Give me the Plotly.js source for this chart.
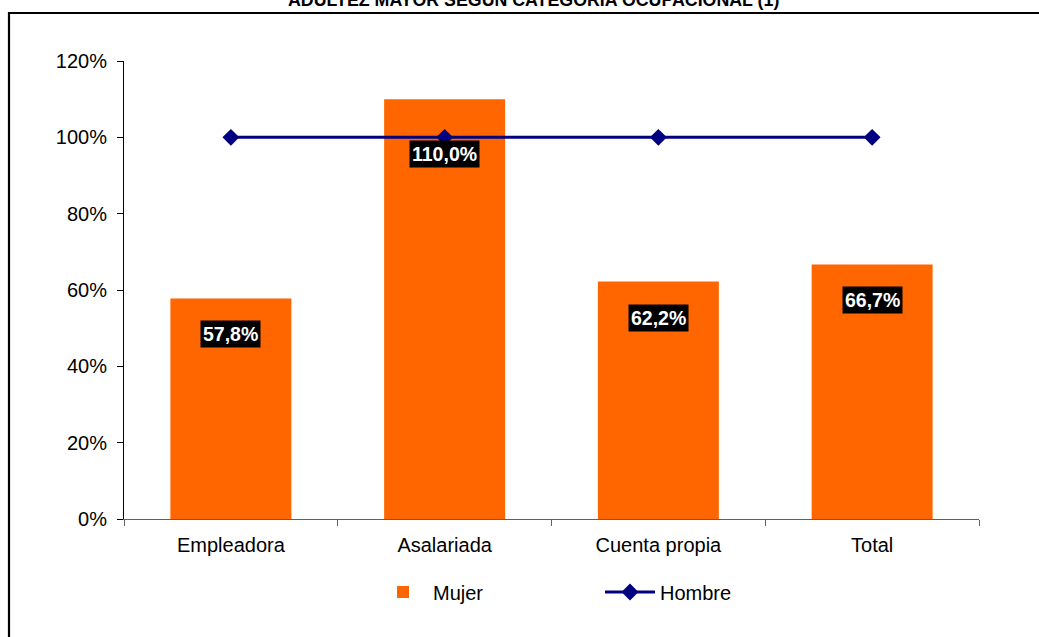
<!DOCTYPE html>
<html><head><meta charset="utf-8">
<script src="https://cdn.plot.ly/plotly-3.0.1.min.js"></script>
<style>html,body{margin:0;padding:0;background:#fff}#chart{width:1039px;height:637px}</style>
</head><body><div id="chart"></div>
<script>
const categories = ['Empleadora', 'Asalariada', 'Cuenta propia', 'Total'];
const mujer = [0.578, 1.100, 0.622, 0.667];
const hombre = [1.0, 1.0, 1.0, 1.0];
const mujerLabels = ['57,8%', '110,0%', '62,2%', '66,7%'];
const yTickVals = [0, 0.2, 0.4, 0.6, 0.8, 1.0, 1.2];
const yTickText = ['0%', '20%', '40%', '60%', '80%', '100%', '120%'];
const seriesNames = ['Mujer', 'Hombre'];
const titleText = 'ADULTEZ MAYOR SEGÚN CATEGORÍA OCUPACIONAL (1)';

const W = 1039, H = 637;
const M = {l: 124, r: 60, t: 61, b: 118};
const plotW = W - M.l - M.r, plotH = H - M.t - M.b;
const yMax = 1.2;
const pxPerUnit = plotH / yMax;
const FONT = 'Liberation Sans, Arial, sans-serif';

// px -> paper helpers
const px2x = px => (px - M.l) / plotW;
const px2y = py => (H - M.b - py) / plotH;

// label placement: box below bar top; if it would hit the Hombre line, put it just under the line
const labelTopGap = 22, labelH = 29;
const annotations = categories.map((c, i) => {
  const topPx = mujer[i] * pxPerUnit - labelTopGap;
  const botPx = topPx - labelH;
  const linePx = hombre[i] * pxPerUnit;
  const hits = linePx <= topPx + 4 && linePx >= botPx - 4;
  return {
    x: c, y: hits ? hombre[i] : mujer[i], xref: 'x', yref: 'y',
    yanchor: 'top', xanchor: 'center', showarrow: false,
    yshift: hits ? -3 : -labelTopGap,
    text: '<b>' + mujerLabels[i] + '</b>',
    font: {family: FONT, size: 19.5, color: '#ffffff'},
    bgcolor: '#000000', borderpad: 2
  };
});

annotations.push({
  text: '<b>' + titleText + '</b>', xref: 'paper', yref: 'paper',
  x: px2x(533), y: px2y(12), xanchor: 'center', yanchor: 'bottom', showarrow: false,
  font: {family: FONT, size: 17.8, color: '#000000'}
});

const boundaries = categories.map((c, i) => i - 0.5).concat([categories.length - 0.5]);

const traces = [
  {
    type: 'bar', name: seriesNames[0], x: categories, y: mujer,
    marker: {color: '#FF6600', line: {width: 0}}, hoverinfo: 'skip'
  },
  {
    type: 'scatter', mode: 'lines+markers', name: seriesNames[1], x: categories, y: hombre,
    line: {color: '#000080', width: 3},
    marker: {symbol: 'diamond', size: 13, color: '#000080'}, hoverinfo: 'skip'
  }
];

const layout = {
  width: W, height: H,
  margin: M,
  paper_bgcolor: '#ffffff', plot_bgcolor: '#ffffff',
  showlegend: true,
  bargap: 0.434,
  font: {family: FONT, size: 20, color: '#000000'},
  xaxis: {
    type: 'category', range: [-0.5, categories.length - 0.5],
    showline: true, linecolor: '#606060', linewidth: 1,
    ticks: 'outside', ticklen: 6, tickcolor: '#606060', tickson: 'boundaries',
    showgrid: false, zeroline: false,
    tickfont: {family: FONT, size: 20, color: '#000000'}, ticklabelstandoff: 8
  },
  xaxis2: {
    overlaying: 'x', anchor: 'y', range: [-0.5, categories.length - 0.5],
    tickmode: 'array', tickvals: boundaries, ticks: 'inside', ticklen: 5,
    tickcolor: '#606060', showticklabels: false, showline: false, showgrid: false, zeroline: false
  },
  yaxis: {
    range: [0, yMax], tickmode: 'array', tickvals: yTickVals, ticktext: yTickText,
    showline: true, linecolor: '#000000', linewidth: 1,
    ticks: 'outside', ticklen: 6, tickcolor: '#000000',
    showgrid: false, zeroline: false,
    tickfont: {family: FONT, size: 20, color: '#000000'}, ticklabelstandoff: 6
  },
  yaxis2: {
    overlaying: 'y', anchor: 'x', range: [0, yMax], tickmode: 'array', tickvals: yTickVals,
    ticks: 'inside', ticklen: 5, tickcolor: '#000000',
    showticklabels: false, showline: false, showgrid: false, zeroline: false
  },
  legend: {
    orientation: 'h', x: px2x(373), xanchor: 'left', y: px2y(592), yanchor: 'middle',
    font: {family: FONT, size: 20, color: '#000000'}, traceorder: 'normal',
    entrywidth: 162, entrywidthmode: 'pixels', itemwidth: 50,
    bgcolor: 'rgba(0,0,0,0)'
  },
  shapes: [{
    type: 'rect', xref: 'paper', yref: 'paper', layer: 'above',
    x0: px2x(9), x1: px2x(W + 20), y0: px2y(H + 20), y1: px2y(13),
    line: {color: '#000000', width: 2.2}, fillcolor: 'rgba(0,0,0,0)'
  }],
  annotations: annotations
};

Plotly.newPlot('chart', traces, layout, {displayModeBar: false, staticPlot: true});
</script>
</body></html>
